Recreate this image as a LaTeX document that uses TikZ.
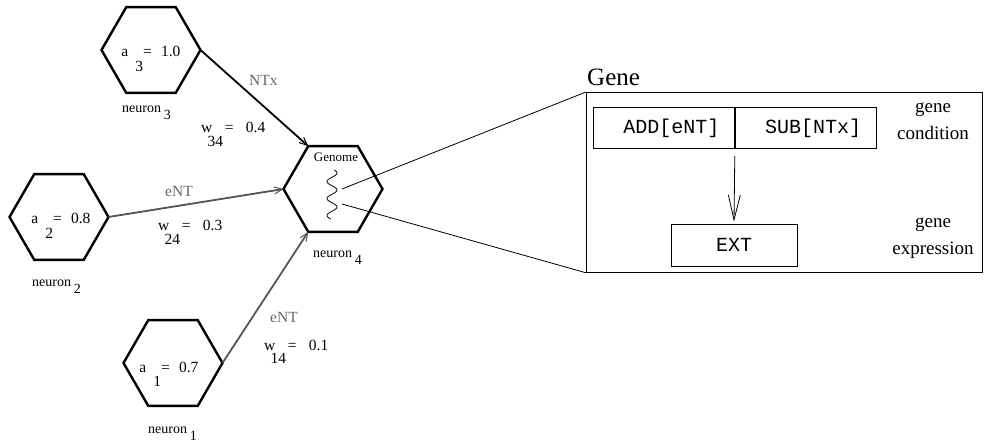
\documentclass[tikz,border=0pt]{standalone}
\usepackage{fontspec}
\setmainfont{Liberation Serif}
\setmonofont{Liberation Mono}
\usetikzlibrary{arrows.meta,shapes.geometric,positioning}
\definecolor{edgegray}{HTML}{555555}
\definecolor{labelgray}{HTML}{666666}
\newcommand{\actlbl}[2]{a\hspace{0.45em}\raisebox{-0.95em}{#1}=\hspace{0.6em}#2}
\newcommand{\wgtlbl}[2]{w\hspace{-0.3em}\raisebox{-0.9em}{#1}\hspace{0.1em}=\hspace{0.8em}#2}
\newcommand{\nrnlbl}[1]{neuron\hspace{0.2em}\raisebox{-0.5em}{#1}}

\begin{document}
\begin{tikzpicture}[x=1pt,y=-1pt,
  hexa/.style={regular polygon,regular polygon sides=6,draw,line width=2.4pt,
    minimum size=99pt,inner sep=0pt,outer sep=0pt},
  txt/.style={inner sep=0pt,font=\fontsize{15.5}{18}\selectfont},
  nrn/.style={inner sep=0pt,anchor=base west,font=\fontsize{14}{17}\selectfont},
  flow/.style={line width=1.8pt,-{Straight Barb[length=8pt,width=7pt,line width=1pt]}},
  codebox/.style={draw,line width=0.8pt,minimum height=41pt,inner ysep=0pt,
    font=\ttfamily\fontsize{20}{24}\selectfont},
  side/.style={inner sep=0pt,align=center,font=\fontsize{19}{27}\selectfont}]
  \useasboundingbox (0,0) rectangle (985,446);

  % neurons
  \node[hexa] (n3) at (151,50) {};
  \node[hexa] (n2) at (59,217) {};
  \node[hexa] (n1) at (173,363) {};
  \node[hexa] (n4) at (333,189) {};
  \node[txt,anchor=base] (a3) at ([yshift=-7pt]n3.center) {\actlbl{3}{1.0}};
  \node[txt,anchor=base] (a2) at ([xshift=2pt,yshift=-7pt]n2.center) {\actlbl{2}{0.8}};
  \node[txt,anchor=base] (a1) at ([xshift=-4pt,yshift=-9pt]n1.center) {\actlbl{1}{0.7}};
  \node[nrn] (l3) at (122,113) {\nrnlbl{3}};
  \node[nrn] (l2) at (32,287) {\nrnlbl{2}};
  \node[nrn] (l1) at (148,433) {\nrnlbl{1}};
  \node[nrn] (l4) at (313,258) {\nrnlbl{4}};

  % synapses
  \draw[flow,black] (n3.0) -- (n4.120);
  \draw[flow,edgegray] (n2.0) -- (n4.180);
  \draw[flow,edgegray] (n1.0) -- (n4.240);
  \node[txt,anchor=base west,labelgray] (nt3) at (249,86) {NTx};
  \node[txt,anchor=base west,labelgray] (nt2) at (165,197) {eNT};
  \node[txt,anchor=base west,labelgray] (nt1) at (270,322) {eNT};
  \node[txt,anchor=base west] (w34) at (201,133) {\wgtlbl{34}{0.4}};
  \node[txt,anchor=base west] (w24) at (158,231) {\wgtlbl{24}{0.3}};
  \node[txt,anchor=base west] (w14) at (264,350) {\wgtlbl{14}{0.1}};

  % genome
  \node[inner sep=0pt,anchor=base,font=\fontsize{13}{15}\selectfont] (genome) at (336,162) {Genome};
  \draw[line width=0.8pt] plot[domain=0:49,samples=80,smooth] ({332+5*sin(21.18*(\x+1.25))},{170+\x});
  \coordinate (gtop) at (342,189);
  \coordinate (gbot) at (342,204);

  % gene
  \node[draw,line width=0.8pt,inner sep=0pt,anchor=north west,
    minimum width=396pt,minimum height=180pt] (genebox) at (586,92) {};
  \draw[line width=0.8pt] (gtop) -- (genebox.north west);
  \draw[line width=0.8pt] (gbot) -- (genebox.south west);
  \node[inner sep=0pt,anchor=base west,font=\fontsize{25}{30}\selectfont] (genetitle) at (587,86) {Gene};
  \node[codebox,anchor=north west,text width=111pt,align=right,inner xsep=15pt] (addc) at (593,107) {ADD[eNT]};
  \node[codebox,anchor=north west,text width=111pt,align=right,inner xsep=15pt] (subc) at (addc.north east) {SUB[NTx]};
  \node[codebox,minimum width=126pt,minimum height=42pt,inner xsep=0pt] (ext) at (734,245) {EXT};
  \draw[line width=0.8pt,-{Straight Barb[length=25pt,width=12pt]}] ([yshift=-7pt]addc.south east) -- ([yshift=2pt]ext.north);
  \node[side,anchor=base] (gcond) at (933,140) {gene\\condition};
  \node[side,anchor=base] (gexpr) at (933,255) {gene\\expression};
\end{tikzpicture}
\end{document}
